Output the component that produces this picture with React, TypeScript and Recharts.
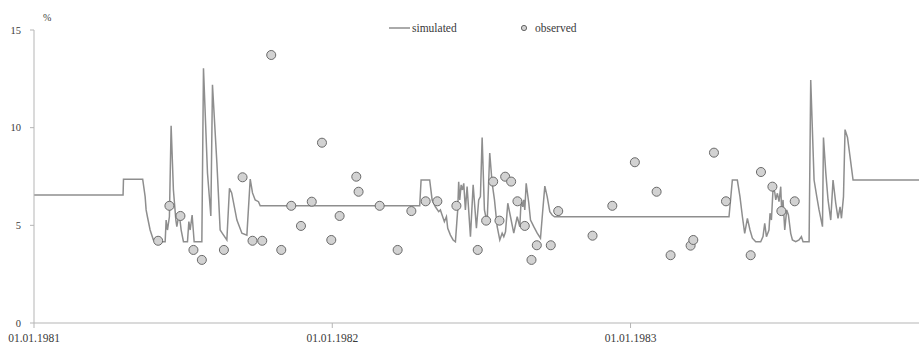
import React from "react";
import { ComposedChart, Line, Scatter, XAxis, YAxis, Legend } from "recharts";

// Days since 01.01.1981
const simX = [
  0, 109, 109.5, 133, 136, 137.2, 138.8, 142.1, 146.1, 150.3, 160.5, 161.7, 163.3, 165.7, 167.8, 170.6, 173.6, 174.8, 177.6, 180.1,
  182.9, 187.8, 189.5, 191.1, 193.5, 196, 205.4, 207.4, 212.3, 216.4, 218.4, 223.8, 227.8, 230.3, 236, 239.2, 241.9, 248.3, 254.4, 260.5,
  264.6, 267.4, 270.7, 274.7, 276.8, 472, 473.7, 484.2, 487.2, 491.2, 495.2, 497.3, 499.4, 502.2, 504.7, 506.3, 509.6, 512.9, 515.7, 518.5,
  519.7, 521, 522.7, 524.3, 525.9, 527.9, 530, 534.1, 537.4, 541.4, 544.2, 546.3, 548.4, 551.2, 554.5, 557.7, 560.6, 563.5, 566.8, 570,
  572.9, 574.9, 577, 579.8, 583.1, 587.1, 591.3, 594.5, 596.1, 598.1, 599.4, 600.6, 602.3, 605.5, 607.6, 611.6, 615.8, 619.8, 622.3, 625.1,
  628, 631.2, 634.1, 637, 850.5, 854.6, 860.7, 863.9, 866.9, 869.7, 873, 876.2, 879.1, 883.2, 889.3, 892.1, 894.2, 896.3, 899.4, 900.7,
  902.4, 904.3, 906.4, 907.7, 909.7, 911.7, 913.8, 915, 916.6, 918.7, 921.1, 923.2, 926, 928.1, 932.1, 936.2, 939.1, 941.1, 948.5, 950.5,
  954.6, 957.9, 960.7, 964.9, 966.1, 969, 971.7, 975, 977.8, 981.1, 983.9, 986.4, 988.1, 990.6, 992.5, 995.5, 998.6, 1002.3, 1083,
];
const simY = [
  6.55, 6.55, 7.36, 7.36, 6.47, 5.79, 5.44, 4.76, 4.25, 4.16, 4.16, 5.27, 4.76, 5.44, 10.1, 6.81, 5.27, 4.93, 5.63, 4.76,
  4.16, 4.16, 5.19, 4.76, 5.53, 4.16, 4.16, 13.04, 7.68, 5.48, 12.2, 8.19, 4.76, 4.6, 4.25, 6.9, 6.66, 5.27, 4.6, 4.5,
  7.37, 6.66, 6.3, 6.21, 6.0, 6.0, 7.32, 7.32, 6.3, 5.95, 5.7, 5.79, 5.53, 5.19, 5.44, 4.85, 4.5, 4.25, 4.16, 5.79,
  7.23, 6.3, 7.07, 6.81, 7.15, 5.79, 6.98, 4.42, 7.07, 4.85, 6.3, 6.47, 9.5, 5.79, 5.12, 8.7, 7.17, 6.3, 4.93, 4.25,
  4.6, 4.42, 4.67, 6.13, 5.44, 4.6, 5.44, 4.93, 6.3, 5.95, 6.3, 5.79, 7.15, 6.13, 5.27, 4.93, 4.6, 4.34, 5.62, 7.01,
  6.47, 5.7, 5.53, 5.44, 5.44, 7.32, 7.32, 6.47, 5.44, 4.59, 5.36, 4.76, 4.34, 4.16, 4.16, 4.42, 5.1, 4.42, 4.76, 5.62,
  5.27, 6.81, 6.72, 6.3, 6.64, 6.21, 6.98, 5.62, 6.3, 4.76, 5.79, 5.53, 4.59, 4.25, 4.16, 4.25, 4.42, 4.16, 4.16, 12.44,
  7.32, 6.47, 5.79, 4.93, 9.5, 7.66, 6.3, 5.27, 7.32, 6.14, 5.36, 5.95, 5.36, 6.47, 9.9, 9.5, 8.52, 7.32, 7.32,
];

const obsX = [
  151.9, 165.7, 179.2, 195.1, 205.4, 232.4, 255.2, 267.4, 279.3, 290.3, 302.6, 314.8, 326.7, 339.9, 352.4, 363.8, 374, 394.4, 397.2, 423,
  445, 461.8, 479.3, 493.6, 516.9, 543, 553.3, 561.9, 569.6, 576.6, 583.9, 591.6, 600.6, 608.8, 615.3, 632.4, 641.5, 683.5, 707.7, 735.3,
  761.9, 779, 803.5, 806.8, 832.1, 846.8, 877, 889.6, 903.6, 914.6, 930.9,
];
const obsY = [
  4.21, 6.0, 5.48, 3.74, 3.23, 3.74, 7.46, 4.21, 4.21, 13.72, 3.74, 6.0, 4.97, 6.21, 9.23, 4.25, 5.48, 7.49, 6.72, 6.0,
  3.74, 5.73, 6.23, 6.23, 6.0, 3.74, 5.24, 7.24, 5.24, 7.49, 7.24, 6.23, 4.97, 3.23, 3.98, 3.98, 5.73, 4.47, 6.0, 8.23,
  6.72, 3.47, 3.96, 4.25, 8.72, 6.23, 3.47, 7.73, 6.98, 5.73, 6.23,
];

const xTicks = [0, 365, 730];
const xTickLabels = ["01.01.1981", "01.01.1982", "01.01.1983"];
const yTicks = [0, 5, 10, 15];

const simData = simX.map((x, i) => ({ x, y: simY[i] }));
const obsData = obsX.map((x, i) => ({ x, y: obsY[i] }));

const FONT = "'Liberation Serif', 'DejaVu Serif', serif";
const TEXT = "#3a3a3a";
const LINE = "#8e8e8e";

const LegendContent = () => (
  <svg width={919} height={16} style={{ display: "block" }}>
    <line x1={389} x2={410} y1={8} y2={8} stroke={LINE} strokeWidth={1.5} />
    <text x={412} y={12} fontFamily={FONT} fontSize={11.5} fill={TEXT}>simulated</text>
    <circle cx={524} cy={8} r={2.6} fill="#d2d2d2" stroke="#666" strokeWidth={1} />
    <text x={535} y={12} fontFamily={FONT} fontSize={11.5} fill={TEXT}>observed</text>
  </svg>
);

const PercentLabel = (props: any) => {
  const vb = props.viewBox || {};
  return (
    <text x={vb.x + vb.width + 9} y={vb.y - 9} fontFamily={FONT} fontSize={10} fill={TEXT}>%</text>
  );
};

export default function App() {
  return (
    <div style={{ position: "absolute", left: 0, top: 0, width: 919, height: 346, background: "#fff" }}>
      <ComposedChart width={919} height={346} margin={{ top: 30, right: 0, bottom: 0, left: 0 }}>
        <XAxis
          type="number"
          dataKey="x"
          domain={[0, 1083]}
          ticks={xTicks}
          tickFormatter={(v: number) => xTickLabels[xTicks.indexOf(v)] ?? ""}
          height={23}
          tickSize={5}
          tickMargin={6}
          stroke="#b5b5b5"
          tick={{ fontFamily: FONT, fontSize: 11.5, fill: TEXT }}
          allowDataOverflow
        />
        <YAxis
          type="number"
          domain={[0, 15]}
          ticks={yTicks}
          width={34}
          tickSize={4}
          tickMargin={9}
          stroke="#b5b5b5"
          tick={{ fontFamily: FONT, fontSize: 10.5, fill: TEXT }}
          label={<PercentLabel />}
        />
        <Legend
          verticalAlign="middle"
          align="center"
          content={<LegendContent />}
          wrapperStyle={{ top: 20, left: 0, width: 919, height: 16 }}
        />
        <Line
          data={simData}
          dataKey="y"
          name="simulated"
          type="linear"
          stroke={LINE}
          strokeWidth={1.5}
          dot={false}
          activeDot={false}
          isAnimationActive={false}
        />
        <Scatter
          data={obsData}
          dataKey="y"
          name="observed"
          fill="#d2d2d2"
          stroke="#6a6a6a"
          strokeWidth={1}
          isAnimationActive={false}
        />
      </ComposedChart>
    </div>
  );
}
